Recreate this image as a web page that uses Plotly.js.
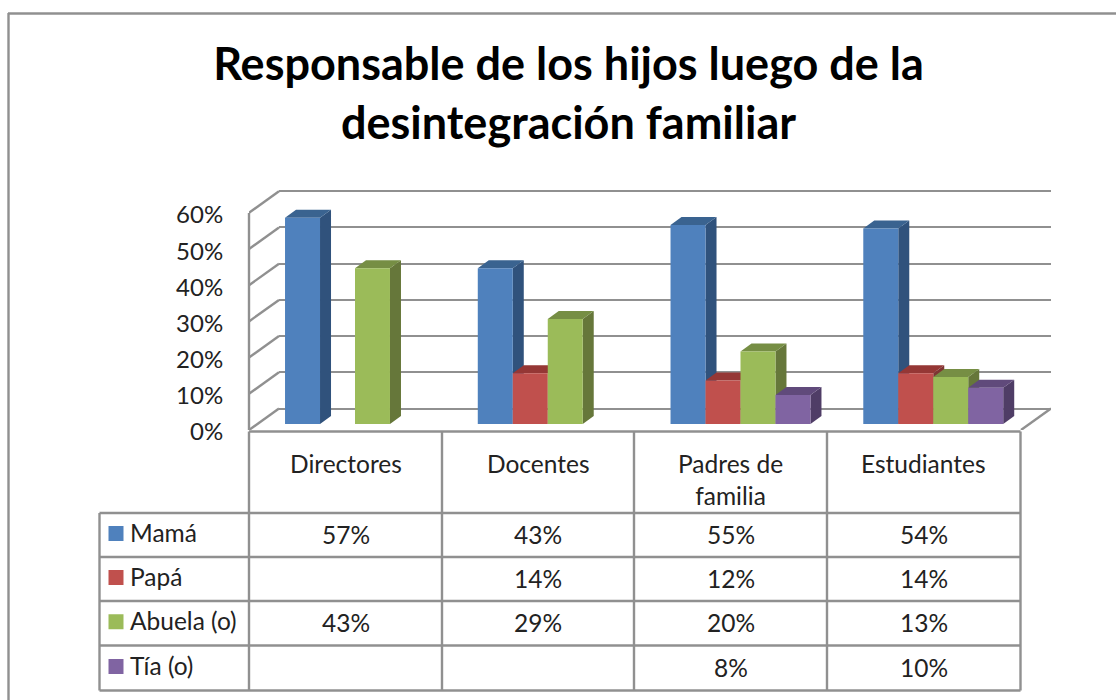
<!DOCTYPE html>
<html><head><meta charset="utf-8">
<script src="https://cdn.plot.ly/plotly-3.0.1.min.js"></script>
<style>html,body{margin:0;padding:0;background:#fff}#c{width:1116px;height:700px}</style>
</head><body><div id="c"></div>
<script>
const titleText = 'Responsable de los hijos luego de la<br>desintegración familiar';
const categories = ['Directores','Docentes','Padres de familia','Estudiantes'];
const categoryLabels = ['Directores','Docentes','Padres de<br>familia','Estudiantes'];
const mama = [57,43,55,54];
const papa = [null,14,12,14];
const abuela = [43,29,20,13];
const tia = [null,null,8,10];
const seriesNames = ['Mamá','Papá','Abuela (o)','Tía (o)'];
const seriesValues = [mama,papa,abuela,tia];
const frontColors = ['#4F81BD','#C0504D','#9BBB59','#8064A2'];
const sideColors = ['#30527C','#7E3533','#66773A','#4F3D66'];
const topColors = ['#3A6390','#953735','#768E44','#604A7B'];
const axisTicks = [0,10,20,30,40,50,60];

const W=1116,H=700;
const px=x=>x/W, py=y=>1-y/H;
const GRAY='#909090', TXT='#222222', FONT='Lato, Carlito, sans-serif';
const FS=24.5, LW=2.4;

// geometry of the pseudo-3D plot, in pixels
const PLOT_L=249,PLOT_R=1051,PLOT_T=187,PLOT_B=430;
const BACK_L=279, BACK_0=408.5, BACK_60=191, FRONT_60=213, TICK_SHIFT=2;
const CELL=192.75, FIRST_CENTER=355, BAR_0=424, PER=3.62;
const xrange=[(PLOT_L-FIRST_CENTER)/CELL,(PLOT_R-FIRST_CENTER)/CELL];
const yrange=[(BAR_0-PLOT_B)/PER,(BAR_0-PLOT_T)/PER];
const GROUP=0.726, SLOT=GROUP/4, DX=11/CELL, DY=8/PER;

const traces=[];
// back wall grid subplot (x/y)
traces.push({type:'scatter',mode:'none',x:[0],y:[0],xaxis:'x',yaxis:'y',hoverinfo:'skip',showlegend:false});

// side and top faces
seriesValues.forEach((vals,k)=>{
  const sx=[],sy=[],tx=[],ty=[];
  vals.forEach((v,i)=>{
    if(v===null) return;
    const xl=i-GROUP/2+k*SLOT, xr=xl+SLOT;
    sx.push(xr,xr+DX,xr+DX,xr,xr,null);
    sy.push(0,DY,v+DY,v,0,null);
    tx.push(xl,xl+DX,xr+DX,xr,xl,null);
    ty.push(v,v+DY,v+DY,v,v,null);
  });
  traces.push({type:'scatter',mode:'lines',x:sx,y:sy,fill:'toself',fillcolor:sideColors[k],line:{width:0},xaxis:'x2',yaxis:'y2',hoverinfo:'skip',showlegend:false});
  traces.push({type:'scatter',mode:'lines',x:tx,y:ty,fill:'toself',fillcolor:topColors[k],line:{width:0},xaxis:'x2',yaxis:'y2',hoverinfo:'skip',showlegend:false});
});

// wall diagonals and floor edge
const dx=[],dy=[];
const frontOff=(BAR_0-PLOT_B)/PER, backOff=(BAR_0-BACK_0)/PER;
axisTicks.forEach(t=>{
  dx.push(xrange[0],(BACK_L-FIRST_CENTER)/CELL,null);
  dy.push(t+frontOff,t+backOff,null);
});
dx.push((1021-FIRST_CENTER)/CELL,xrange[1],null);
dy.push(frontOff,backOff,null);
traces.push({type:'scatter',mode:'lines',x:dx,y:dy,line:{color:GRAY,width:LW},xaxis:'x2',yaxis:'y2',hoverinfo:'skip',showlegend:false,cliponaxis:false});

// front faces
seriesValues.forEach((vals,k)=>{
  traces.push({type:'bar',name:seriesNames[k],x:categories,y:vals,marker:{color:frontColors[k],line:{width:0}},xaxis:'x3',yaxis:'y3',showlegend:false,hovertemplate:'%{x}: %{y}%<extra>'+seriesNames[k]+'</extra>'});
});

// front tick axis carrier
traces.push({type:'scatter',mode:'none',x:[0],y:[0],xaxis:'x2',yaxis:'y4',hoverinfo:'skip',showlegend:false});

const shapes=[],annotations=[];
const hline=(x0,x1,y)=>shapes.push({type:'line',xref:'paper',yref:'paper',x0:px(x0),x1:px(x1),y0:py(y),y1:py(y),line:{color:GRAY,width:LW}});
const vline=(x,y0,y1)=>shapes.push({type:'line',xref:'paper',yref:'paper',x0:px(x),x1:px(x),y0:py(y0),y1:py(y1),line:{color:GRAY,width:LW}});
const label=(x,y,text,anchor,yanchor)=>annotations.push({xref:'paper',yref:'paper',x:px(x),y:py(y),text:text,showarrow:false,xanchor:anchor||'center',yanchor:yanchor||'middle',font:{family:FONT,size:FS,color:TXT}});

// chart frame
hline(8,1116,13.5); vline(8.5,13,700);
// front wall edge
vline(249,FRONT_60,PLOT_B);

// data table
const colX=[249,442,634,827,1020.5];
const rowY=[513,557,601,645.5,690.5];
hline(249,1020.5,431.5);
rowY.forEach(y=>hline(99.5,1020.5,y));
colX.forEach(x=>vline(x,431.5,690.5));
vline(99.5,513,690.5);
categoryLabels.forEach((c,i)=>{
  const cx=(colX[i]+colX[i+1])/2;
  annotations.push({xref:'paper',yref:'paper',x:px(cx),y:py(447.5),text:c,showarrow:false,xanchor:'center',yanchor:'top',align:'center',font:{family:FONT,size:FS,color:TXT}});
});
seriesNames.forEach((n,k)=>{
  const cy=(rowY[k]+rowY[k+1])/2;
  shapes.push({type:'rect',xref:'paper',yref:'paper',x0:px(108.5),x1:px(123.5),y0:py(cy-9),y1:py(cy+6),fillcolor:frontColors[k],line:{width:0}});
  label(128,cy-3,n,'left');
  seriesValues[k].forEach((v,i)=>{
    if(v===null) return;
    label((colX[i]+colX[i+1])/2,cy-1,v+'%');
  });
});

const blank={visible:true,showgrid:false,zeroline:false,showline:false,showticklabels:false,ticks:''};
const layout={
  width:W,height:H,margin:{l:0,r:0,t:0,b:0},paper_bgcolor:'#fff',plot_bgcolor:'rgba(0,0,0,0)',
  showlegend:false,barmode:'group',bargap:1-GROUP,bargroupgap:0,
  title:{text:titleText,x:568.5/W,xanchor:'center',y:1-80/H,yanchor:'top',font:{family:FONT,size:45,color:'#000',weight:700}},
  xaxis:{...blank,domain:[px(BACK_L),px(PLOT_R)],range:[0,1],anchor:'y'},
  yaxis:{domain:[py(BACK_0+(BACK_0-BACK_60)/60),py(BACK_60-(BACK_0-BACK_60)/60)],range:[-1,61],anchor:'x',tickvals:axisTicks,showgrid:true,gridcolor:GRAY,gridwidth:LW,zeroline:false,showline:false,showticklabels:false,ticks:''},
  xaxis2:{...blank,domain:[px(PLOT_L),px(PLOT_R)],range:xrange,anchor:'y2'},
  yaxis2:{...blank,domain:[py(PLOT_B),py(PLOT_T)],range:yrange,anchor:'x2'},
  xaxis3:{...blank,type:'category',categoryorder:'array',categoryarray:categories,domain:[px(PLOT_L),px(PLOT_R)],range:xrange,anchor:'y3'},
  yaxis3:{...blank,domain:[py(PLOT_B),py(PLOT_T)],range:yrange,anchor:'x3'},
  yaxis4:{domain:[py(PLOT_B+TICK_SHIFT),py(FRONT_60+TICK_SHIFT)],range:[0,60],anchor:'x2',tickvals:axisTicks,ticktext:axisTicks.map(t=>t+'%'),showgrid:false,zeroline:false,showline:false,ticks:'outside',ticklen:20,tickcolor:'rgba(0,0,0,0)',tickfont:{family:FONT,size:24,color:TXT}},
  shapes:shapes,annotations:annotations
};
Plotly.newPlot('c',traces,layout,{displayModeBar:false,responsive:false});
</script></body></html>
